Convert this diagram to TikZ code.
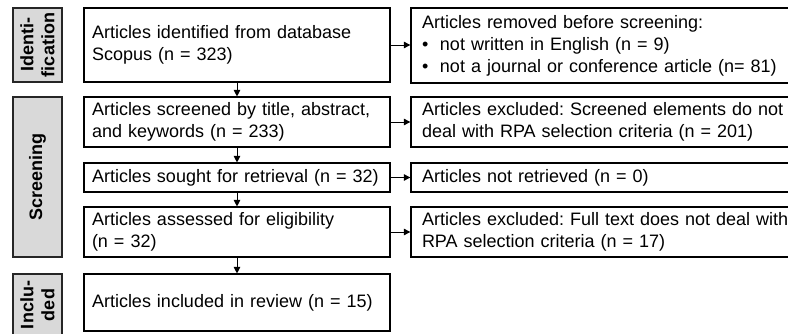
\documentclass[tikz,border=0pt]{standalone}
\usepackage{fontspec}
\setmainfont{Liberation Sans}
\usetikzlibrary{arrows.meta}
\frenchspacing

\definecolor{phasegray}{HTML}{D9D9D9}
\definecolor{phaseline}{HTML}{262626}

\tikzset{
  flowbox/.style={draw=black, line width=1.1pt, fill=white, inner xsep=8pt, inner ysep=0pt,
    text width=290pt, minimum width=306pt, align=left,
    font=\fontsize{18}{22}\selectfont},
  sidebox/.style={draw=black, line width=1.3pt, fill=white, inner xsep=11pt, inner ysep=0pt,
    text width=378pt, minimum width=400pt, align=left,
    font=\fontsize{18}{22}\selectfont},
  phasebox/.style={draw=phaseline, line width=1.6pt, fill=phasegray, rotate=90,
    minimum height=49pt, inner sep=0pt, align=center,
    font=\bfseries\fontsize{18}{21}\selectfont},
  flowarrow/.style={line width=0.9pt, -{Triangle[length=6.5pt,width=6.5pt]}},
}
\newcommand{\bulletline}[1]{\makebox[18pt][l]{\textbullet}#1}

\begin{document}
\begin{tikzpicture}[x=1pt,y=1pt]
  \clip (0,0) rectangle (788,333);
  \fill[white] (0,0) rectangle (788,333);

  % phase labels on the left
  \node[phasebox, minimum width=74pt]  (pid)  at (37.5,288) {Identi-\\fication};
  \node[phasebox, minimum width=160pt] (pscr) at (37.5,156) {Screening};
  \node[phasebox, minimum width=62pt]  (pinc) at (37.5,28)  {Inclu-\\ded};

  % main flow
  \node[flowbox, minimum height=74pt] (ident)  at (237,288)   {Articles identified from database\\Scopus (n = 323)};
  \node[flowbox, minimum height=50pt] (screen) at (237,211)   {Articles screened by title, abstract,\\and keywords (n = 233)};
  \node[flowbox, minimum height=29pt] (sought) at (237,155.5) {Articles sought for retrieval (n = 32)};
  \node[flowbox, minimum height=50pt] (assess) at (237,101)   {Articles assessed for eligibility\\(n = 32)};
  \node[flowbox, minimum height=57pt] (incl)   at (237,30.5)  {Articles included in review (n = 15)};

  % exclusions on the right
  \node[sidebox, minimum height=75pt] (removed)  at (611,287.5) {Articles removed before screening:\\
    \bulletline{not written in English (n = 9)}\\
    \bulletline{not a journal or conference article (n= 81)}};
  \node[sidebox, minimum height=50pt] (excl1)    at (611,211)   {Articles excluded: Screened elements do not\\deal with RPA selection criteria (n = 201)};
  \node[sidebox, minimum height=29pt] (notret)   at (611,155.5) {Articles not retrieved (n = 0)};
  \node[sidebox, minimum height=50pt] (excl2)    at (611,101)   {Articles excluded: Full text does not deal with\\RPA selection criteria (n = 17)};

  % connectors
  \draw[flowarrow] (ident.south)  -- (screen.north);
  \draw[flowarrow] (screen.south) -- (sought.north);
  \draw[flowarrow] (sought.south) -- (assess.north);
  \draw[flowarrow] (assess.south) -- (incl.north);

  \draw[flowarrow] (ident.east)  -- (ident.east -| removed.west);
  \draw[flowarrow] (screen.east) -- (screen.east -| excl1.west);
  \draw[flowarrow] (sought.east) -- (sought.east -| notret.west);
  \draw[flowarrow] (assess.east) -- (assess.east -| excl2.west);
\end{tikzpicture}
\end{document}
